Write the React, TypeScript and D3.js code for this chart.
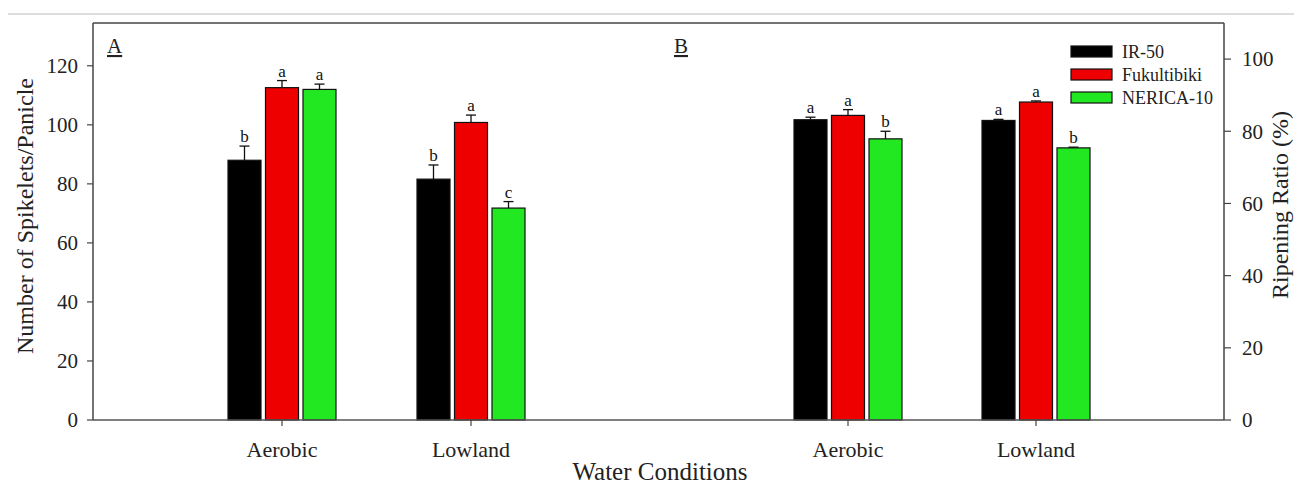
import React from "react";
import * as d3 from "d3";

const categories = ["Aerobic", "Lowland"];
const varieties = ["IR-50", "Fukultibiki", "NERICA-10"];
const colors = ["#000000", "#ee0000", "#22e822"];

// Panel A: Number of Spikelets/Panicle
const spikeletMeans = [
  [88, 112.6, 112],
  [81.6, 100.8, 71.8],
];
const spikeletErr = [
  [4.8, 2.4, 1.8],
  [4.8, 2.5, 2.2],
];
const spikeletLetters = [
  ["b", "a", "a"],
  ["b", "a", "c"],
];
const spikeletTicks = [0, 20, 40, 60, 80, 100, 120];

// Panel B: Ripening Ratio (%)
const ripeningMeans = [
  [83.2, 84.4, 77.9],
  [83, 88.1, 75.4],
];
const ripeningErr = [
  [0.7, 1.6, 2.1],
  [0.3, 0.3, 0.2],
];
const ripeningLetters = [
  ["a", "a", "b"],
  ["a", "a", "b"],
];
const ripeningTicks = [0, 20, 40, 60, 80, 100];

const FONT = "'Liberation Serif', 'Times New Roman', serif";
const TOP = 23;
const BOTTOM = 420;

type PanelProps = {
  x0: number;
  x1: number;
  yMax: number;
  means: number[][];
  errs: number[][];
  letters: string[][];
  ticks: number[];
  side: "left" | "right";
  label: string;
};

function Panel({ x0, x1, yMax, means, errs, letters, ticks, side, label }: PanelProps) {
  const y = d3.scaleLinear().domain([0, yMax]).range([BOTTOM, TOP]);
  const x = d3.scalePoint<string>().domain(["", ...categories, " "]).range([x0, x1]);
  const barW = 33;
  const gap = 4.5;
  const inner = d3
    .scaleBand<number>()
    .domain([0, 1, 2])
    .range([-(barW * 1.5 + gap), barW * 1.5 + gap])
    .paddingInner(gap / (barW + gap));
  const axisX = side === "left" ? x0 : x1;
  return (
    <g>
      {categories.map((c, ci) =>
        varieties.map((v, vi) => {
          const cx = (x(c) as number) + (inner(vi) as number);
          const bw = inner.bandwidth();
          const m = means[ci][vi];
          const e = errs[ci][vi];
          const mid = cx + bw / 2;
          return (
            <g key={c + v}>
              <rect x={cx} y={y(m)} width={bw} height={BOTTOM - y(m)} fill={colors[vi]} stroke="#111" strokeWidth={1.2} />
              <line x1={mid} x2={mid} y1={y(m)} y2={y(m + e)} stroke="#111" strokeWidth={1.3} />
              <line x1={mid - 5} x2={mid + 5} y1={y(m + e)} y2={y(m + e)} stroke="#111" strokeWidth={1.3} />
              <text x={mid} y={y(m + e) - 4} textAnchor="middle" fontFamily={FONT} fontSize={17} fill="#111">
                {letters[ci][vi]}
              </text>
            </g>
          );
        })
      )}
      {/* axis frame */}
      <line x1={x0} x2={x1} y1={TOP} y2={TOP} stroke="#444" strokeWidth={1.5} />
      <line x1={x0} x2={x1} y1={BOTTOM} y2={BOTTOM} stroke="#555" strokeWidth={1.5} />
      <line x1={axisX} x2={axisX} y1={TOP} y2={BOTTOM} stroke="#444" strokeWidth={1.5} />
      {ticks.map((t) => (
        <g key={t}>
          <line
            x1={axisX}
            x2={side === "left" ? axisX - 6 : axisX + 7}
            y1={y(t)}
            y2={y(t)}
            stroke="#444"
            strokeWidth={1.2}
          />
          <text
            x={side === "left" ? axisX - 15 : axisX + 18}
            y={y(t)}
            dy="0.35em"
            textAnchor={side === "left" ? "end" : "start"}
            fontFamily={FONT}
            fontSize={21}
            fill="#222"
          >
            {t}
          </text>
        </g>
      ))}
      {categories.map((c) => (
        <g key={c}>
          <line x1={x(c) as number} x2={x(c) as number} y1={BOTTOM} y2={BOTTOM + 6} stroke="#444" strokeWidth={1.2} />
          <text x={x(c) as number} y={BOTTOM + 37} textAnchor="middle" fontFamily={FONT} fontSize={22} fill="#222">
            {c}
          </text>
        </g>
      ))}
      <text x={x0 + 14} y={53} fontFamily={FONT} fontSize={21} fill="#222" textDecoration="underline">
        {label}
      </text>
    </g>
  );
}

export default function App() {
  const aX0 = 93;
  const aX1 = 660;
  const bX0 = 660;
  const bX1 = 1224;
  return (
    <svg width={1294} height={486} style={{ position: "absolute", left: 0, top: 0, background: "#fff" }}>
      <rect width={1294} height={486} fill="#fff" />
      <line x1={8} x2={1294} y1={14} y2={14} stroke="#bbb" strokeWidth={1.2} />
      <Panel
        x0={aX0}
        x1={aX1}
        yMax={134.5}
        means={spikeletMeans}
        errs={spikeletErr}
        letters={spikeletLetters}
        ticks={spikeletTicks}
        side="left"
        label="A"
      />
      <Panel
        x0={bX0}
        x1={bX1}
        yMax={110}
        means={ripeningMeans}
        errs={ripeningErr}
        letters={ripeningLetters}
        ticks={ripeningTicks}
        side="right"
        label="B"
      />
      {/* legend */}
      {varieties.map((v, i) => (
        <g key={v}>
          <rect x={1071} y={46 + i * 23} width={41} height={11} fill={colors[i]} stroke="#111" strokeWidth={1.2} />
          <text x={1122} y={51.5 + i * 23} dy="0.35em" fontFamily={FONT} fontSize={18} fill="#222">
            {v}
          </text>
        </g>
      ))}
      <text
        transform="translate(33,216) rotate(-90)"
        textAnchor="middle"
        fontFamily={FONT}
        fontSize={24}
        fill="#222"
      >
        Number of Spikelets/Panicle
      </text>
      <text
        transform="translate(1288,205) rotate(-90)"
        textAnchor="middle"
        fontFamily={FONT}
        fontSize={24}
        fill="#222"
      >
        Ripening Ratio (%)
      </text>
      <text x={660} y={480} textAnchor="middle" fontFamily={FONT} fontSize={25} fill="#222">
        Water Conditions
      </text>
    </svg>
  );
}
